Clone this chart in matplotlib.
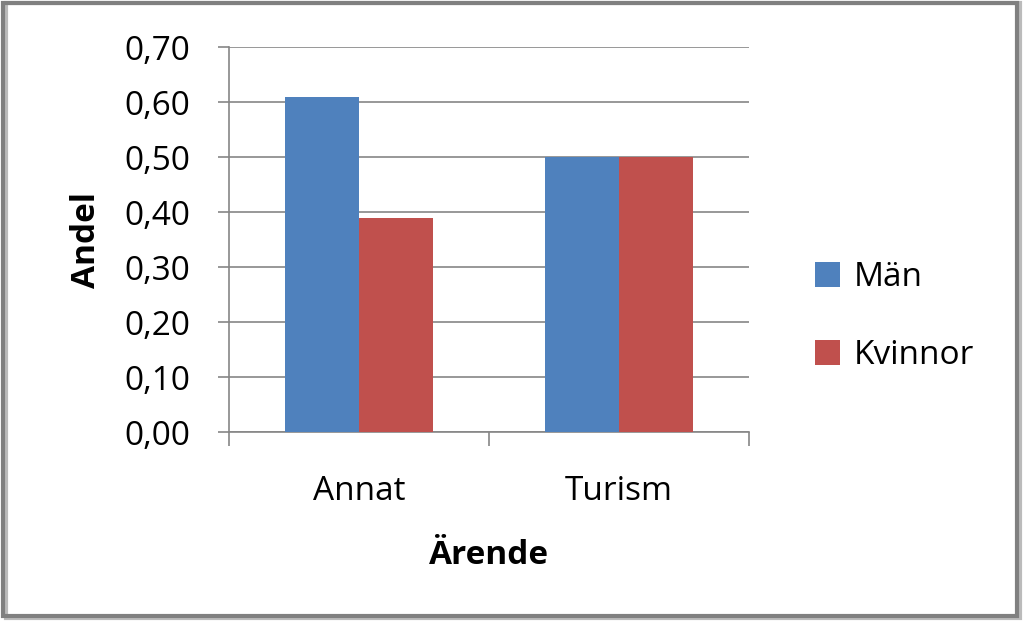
import numpy as np
import matplotlib.pyplot as plt
from matplotlib.patches import Rectangle

# Data
kategorier = ["Annat", "Turism"]
man = [0.61, 0.50]
kvinnor = [0.39, 0.50]
yticks = [0.0, 0.1, 0.2, 0.3, 0.4, 0.5, 0.6, 0.7]

plt.rcParams['font.family'] = ['Open Sans', 'DejaVu Sans']
fs = 24

fig = plt.figure(figsize=(10.23, 6.26), dpi=100)
ax = fig.add_axes([0.2239, 0.3099, 0.5083, 0.615])

x = np.arange(len(kategorier))
w = 0.285
ax.bar(x - w / 2, man, w, color='#4F81BD', label='Män', zorder=3)
ax.bar(x + w / 2, kvinnor, w, color='#C0504D', label='Kvinnor', zorder=3)

ax.set_xlim(-0.5, len(kategorier) - 0.5)
ax.set_ylim(0, 0.7)
ax.set_yticks(yticks)
ax.set_yticklabels([f"{v:.2f}".replace('.', ',') for v in yticks], fontsize=fs)
ax.yaxis.grid(True, color='#868686', linewidth=1.2, zorder=0)

# category boundaries as ticks, labels centered
ax.set_xticks([-0.5, 0.5, 1.5])
ax.set_xticklabels([])
ax.set_xticks(x, minor=True)
ax.set_xticklabels(kategorier, minor=True, fontsize=fs)
ax.tick_params(axis='x', which='minor', length=0, pad=31)
ax.tick_params(axis='x', which='major', length=10, color='#868686', width=1.2)
ax.tick_params(axis='y', length=8, color='#868686', width=1.2, pad=20)

for s in ['top', 'right']:
    ax.spines[s].set_visible(False)
for s in ['left', 'bottom']:
    ax.spines[s].set_color('#868686')
    ax.spines[s].set_linewidth(1.2)

ax.set_xlabel("Ärende", fontsize=fs, fontweight='bold', labelpad=22)
ax.set_ylabel("Andel", fontsize=fs, fontweight='bold', labelpad=15)

ax.legend(loc='center left', bbox_to_anchor=(1.07, 0.30), frameon=False,
          fontsize=fs, handlelength=0.75, handleheight=0.75, labelspacing=1.35,
          handletextpad=0.4)

# outer frame with a slight shadow
fig.patches.append(Rectangle((0.006, 0.012), 0.991, 0.983, transform=fig.transFigure,
                             fill=False, edgecolor='#BBBBBB', linewidth=3))
fig.patches.append(Rectangle((0.003, 0.016), 0.991, 0.980, transform=fig.transFigure,
                             fill=False, edgecolor='#808080', linewidth=3))

fig.savefig("out.png", dpi=100)
